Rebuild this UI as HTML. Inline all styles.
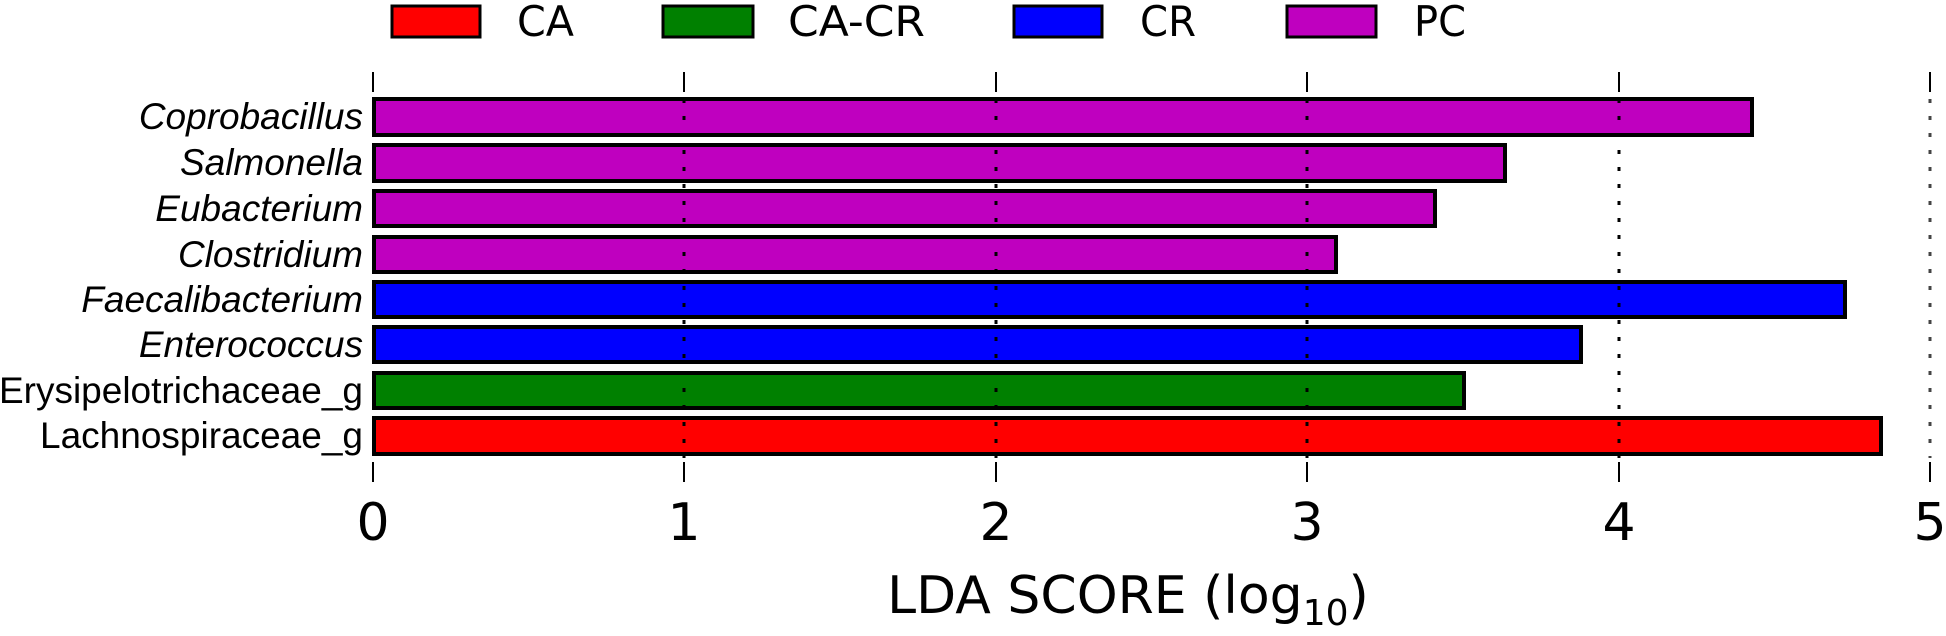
<!DOCTYPE html>
<html><head><meta charset="utf-8"><style>
html,body{margin:0;padding:0;background:#fff;}
svg{display:block;}
</style></head><body>
<svg width="1946" height="636" viewBox="0 0 1946 636" xmlns="http://www.w3.org/2000/svg">
<g font-family="DejaVu Sans, sans-serif" font-size="42" fill="#000">
<rect x="392" y="6" width="88" height="31" fill="#ff0000" stroke="#000" stroke-width="3"/>
<text x="517" y="36" textLength="57" lengthAdjust="spacingAndGlyphs">CA</text>
<rect x="663" y="6" width="90" height="31" fill="#008000" stroke="#000" stroke-width="3"/>
<text x="788" y="36" textLength="137" lengthAdjust="spacingAndGlyphs">CA-CR</text>
<rect x="1014" y="6" width="88" height="31" fill="#0000ff" stroke="#000" stroke-width="3"/>
<text x="1140" y="36" textLength="56" lengthAdjust="spacingAndGlyphs">CR</text>
<rect x="1287" y="6" width="89" height="31" fill="#bf00bf" stroke="#000" stroke-width="3"/>
<text x="1414" y="36" textLength="52" lengthAdjust="spacingAndGlyphs">PC</text>
</g>
<g stroke="#000" stroke-width="2">
<line x1="373" y1="72" x2="373" y2="92"/><line x1="684" y1="72" x2="684" y2="92"/><line x1="996" y1="72" x2="996" y2="92"/><line x1="1307" y1="72" x2="1307" y2="92"/><line x1="1619" y1="72" x2="1619" y2="92"/><line x1="1930" y1="72" x2="1930" y2="92"/>
<line x1="373" y1="462" x2="373" y2="482"/><line x1="684" y1="462" x2="684" y2="482"/><line x1="996" y1="462" x2="996" y2="482"/><line x1="1307" y1="462" x2="1307" y2="482"/><line x1="1619" y1="462" x2="1619" y2="482"/><line x1="1930" y1="462" x2="1930" y2="482"/>
</g>
<g stroke="#000" stroke-width="4">
<rect x="374" y="99" width="1378" height="36" fill="#bf00bf"/>
<rect x="374" y="145" width="1131" height="36" fill="#bf00bf"/>
<rect x="374" y="191" width="1061" height="35" fill="#bf00bf"/>
<rect x="374" y="237" width="962" height="35" fill="#bf00bf"/>
<rect x="374" y="282" width="1471" height="35" fill="#0000ff"/>
<rect x="374" y="327" width="1207" height="35" fill="#0000ff"/>
<rect x="374" y="373" width="1090" height="35" fill="#008000"/>
<rect x="374" y="418" width="1507" height="36" fill="#ff0000"/>
</g>
<g stroke="#000" stroke-width="3" stroke-dasharray="4,13">
<line x1="684" y1="99" x2="684" y2="458"/><line x1="996" y1="99" x2="996" y2="458"/><line x1="1307" y1="99" x2="1307" y2="458"/><line x1="1619" y1="99" x2="1619" y2="458"/><line x1="1930" y1="99" x2="1930" y2="458" stroke="#444"/>
</g>
<g font-family="Liberation Sans, Arial, sans-serif" font-size="37" text-anchor="end" fill="#000">
<text x="363" y="129" font-style="italic">Coprobacillus</text>
<text x="363" y="175" font-style="italic">Salmonella</text>
<text x="363" y="221" font-style="italic">Eubacterium</text>
<text x="363" y="267" font-style="italic">Clostridium</text>
<text x="363" y="312" font-style="italic">Faecalibacterium</text>
<text x="363" y="357" font-style="italic">Enterococcus</text>
<text x="363" y="403">Erysipelotrichaceae_g</text>
<text x="363" y="448">Lachnospiraceae_g</text>
</g>
<g font-family="DejaVu Sans, sans-serif" font-size="52" text-anchor="middle" fill="#000">
<text x="373" y="540">0</text><text x="684" y="540">1</text><text x="996" y="540">2</text><text x="1307" y="540">3</text><text x="1619" y="540">4</text><text x="1930" y="540">5</text>
<text x="1128" y="613">LDA SCORE (log<tspan font-size="36" dy="12">10</tspan><tspan dy="-12">)</tspan></text>
</g>
</svg>
</body></html>
